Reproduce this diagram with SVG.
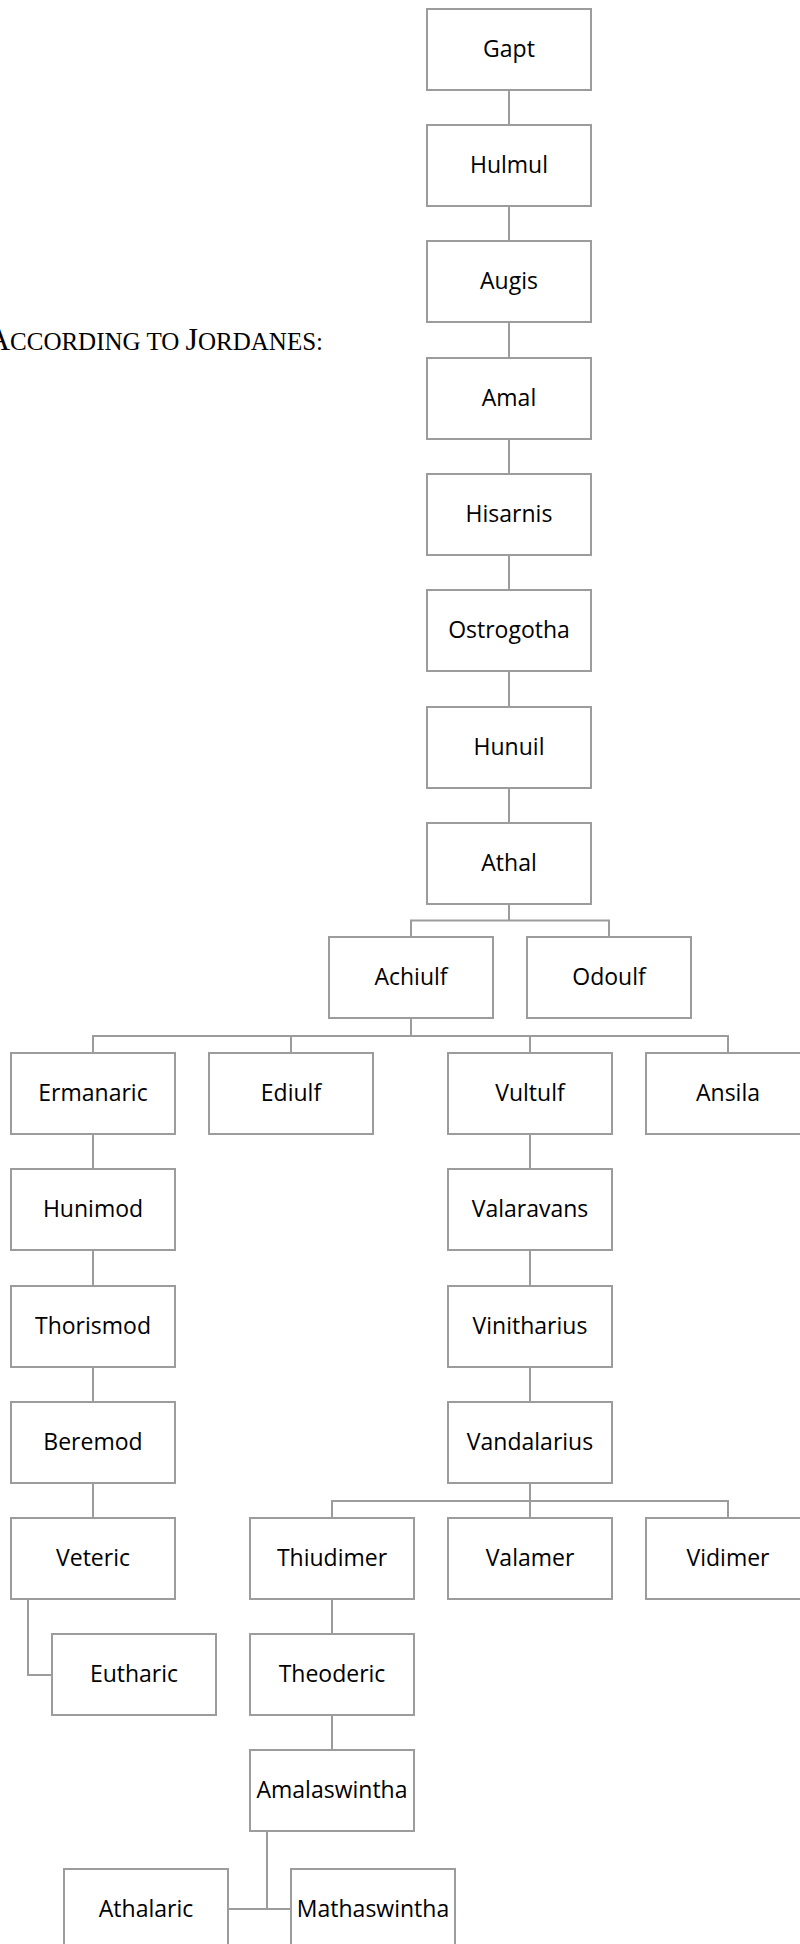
<svg xmlns="http://www.w3.org/2000/svg" width="800" height="1944" viewBox="0 0 800 1944">
<style>
.n rect{fill:#fff;stroke:#9c9c9c;stroke-width:2}
.n text{font-family:"Open Sans","Liberation Sans",sans-serif;font-size:23px;fill:#000;text-anchor:middle}
#connectors path{fill:none;stroke:#9c9c9c;stroke-width:2}
.title{font-family:"Liberation Serif","Times New Roman",serif;fill:#000}
</style>
<rect width="800" height="1944" fill="#fff"/>
<text class="title" x="323" y="350" text-anchor="end" font-size="32">A<tspan font-size="25">CCORDING TO </tspan>J<tspan font-size="25">ORDANES:</tspan></text>
<g id="connectors">
<path d="M509 90V125M509 206V241M509 322V358M509 439V474M509 555V590M509 671V707M509 788V823"/>
<path d="M509 904V920.5M411 937V920.5H609V937"/>
<path d="M411 1018V1036M93 1053V1036H728V1053M291 1036V1053M530 1036V1053"/>
<path d="M93 1134V1169M93 1250V1286M93 1367V1402M93 1483V1518"/>
<path d="M530 1134V1169M530 1250V1286M530 1367V1402"/>
<path d="M530 1483V1501M332 1518V1501H728V1518M530 1501V1518"/>
<path d="M28 1599V1675H52"/>
<path d="M332 1599V1634M332 1715V1750"/>
<path d="M267 1831V1909M228 1909H291"/>
</g>
<g id="gapt" class="n"><rect x="427" y="9" width="164" height="81"/><text x="509" y="57">Gapt</text></g>
<g id="hulmul" class="n"><rect x="427" y="125" width="164" height="81"/><text x="509" y="173">Hulmul</text></g>
<g id="augis" class="n"><rect x="427" y="241" width="164" height="81"/><text x="509" y="289">Augis</text></g>
<g id="amal" class="n"><rect x="427" y="358" width="164" height="81"/><text x="509" y="406">Amal</text></g>
<g id="hisarnis" class="n"><rect x="427" y="474" width="164" height="81"/><text x="509" y="522">Hisarnis</text></g>
<g id="ostrogotha" class="n"><rect x="427" y="590" width="164" height="81"/><text x="509" y="638">Ostrogotha</text></g>
<g id="hunuil" class="n"><rect x="427" y="707" width="164" height="81"/><text x="509" y="755">Hunuil</text></g>
<g id="athal" class="n"><rect x="427" y="823" width="164" height="81"/><text x="509" y="871">Athal</text></g>
<g id="achiulf" class="n"><rect x="329" y="937" width="164" height="81"/><text x="411" y="985">Achiulf</text></g>
<g id="odoulf" class="n"><rect x="527" y="937" width="164" height="81"/><text x="609" y="985">Odoulf</text></g>
<g id="ermanaric" class="n"><rect x="11" y="1053" width="164" height="81"/><text x="93" y="1101">Ermanaric</text></g>
<g id="ediulf" class="n"><rect x="209" y="1053" width="164" height="81"/><text x="291" y="1101">Ediulf</text></g>
<g id="vultulf" class="n"><rect x="448" y="1053" width="164" height="81"/><text x="530" y="1101">Vultulf</text></g>
<g id="ansila" class="n"><rect x="646" y="1053" width="164" height="81"/><text x="728" y="1101">Ansila</text></g>
<g id="hunimod" class="n"><rect x="11" y="1169" width="164" height="81"/><text x="93" y="1217">Hunimod</text></g>
<g id="valaravans" class="n"><rect x="448" y="1169" width="164" height="81"/><text x="530" y="1217">Valaravans</text></g>
<g id="thorismod" class="n"><rect x="11" y="1286" width="164" height="81"/><text x="93" y="1334">Thorismod</text></g>
<g id="vinitharius" class="n"><rect x="448" y="1286" width="164" height="81"/><text x="530" y="1334">Vinitharius</text></g>
<g id="beremod" class="n"><rect x="11" y="1402" width="164" height="81"/><text x="93" y="1450">Beremod</text></g>
<g id="vandalarius" class="n"><rect x="448" y="1402" width="164" height="81"/><text x="530" y="1450">Vandalarius</text></g>
<g id="veteric" class="n"><rect x="11" y="1518" width="164" height="81"/><text x="93" y="1566">Veteric</text></g>
<g id="thiudimer" class="n"><rect x="250" y="1518" width="164" height="81"/><text x="332" y="1566">Thiudimer</text></g>
<g id="valamer" class="n"><rect x="448" y="1518" width="164" height="81"/><text x="530" y="1566">Valamer</text></g>
<g id="vidimer" class="n"><rect x="646" y="1518" width="164" height="81"/><text x="728" y="1566">Vidimer</text></g>
<g id="eutharic" class="n"><rect x="52" y="1634" width="164" height="81"/><text x="134" y="1682">Eutharic</text></g>
<g id="theoderic" class="n"><rect x="250" y="1634" width="164" height="81"/><text x="332" y="1682">Theoderic</text></g>
<g id="amalaswintha" class="n"><rect x="250" y="1750" width="164" height="81"/><text x="332" y="1798">Amalaswintha</text></g>
<g id="athalaric" class="n"><rect x="64" y="1869" width="164" height="81"/><text x="146" y="1917">Athalaric</text></g>
<g id="mathaswintha" class="n"><rect x="291" y="1869" width="164" height="81"/><text x="373" y="1917">Mathaswintha</text></g>
</svg>
